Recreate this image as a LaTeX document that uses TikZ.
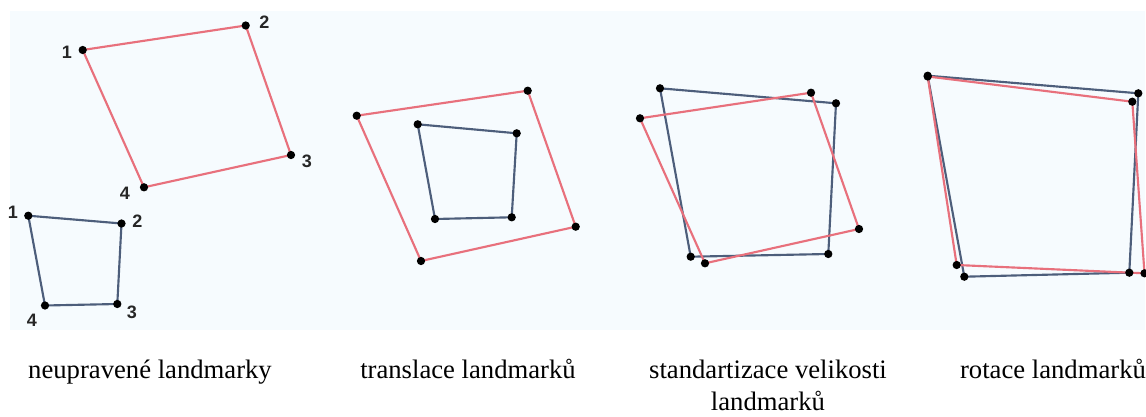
\documentclass[tikz,border=0pt]{standalone}
\usepackage{fontspec}
\setmainfont{Liberation Serif}
\newfontfamily\lblfont{Liberation Sans}
\definecolor{bgc}{HTML}{F6FBFE}
\definecolor{redc}{HTML}{E8707C}
\definecolor{bluec}{HTML}{4D5E7B}
\pgfdeclarelayer{bg}
\pgfdeclarelayer{lines}
\pgfsetlayers{bg,lines,main}
\tikzset{
  dot/.style={circle,fill=black,inner sep=0pt,minimum size=6.2pt},
  redq/.style={draw=redc,line width=1.6pt,line join=round},
  blueq/.style={draw=bluec,line width=1.6pt,line join=round},
  num/.style={font=\lblfont\bfseries\fontsize{13.5}{15}\selectfont,inner sep=0pt,text=black!85},
  captxt/.style={font=\fontsize{20}{24}\selectfont,inner sep=0pt,anchor=base,align=center}
}
\begin{document}
\begin{tikzpicture}[x=0.75pt,y=-0.75pt]
\useasboundingbox (0,0) rectangle (1146,417);
\begin{pgfonlayer}{bg}
\fill[bgc] (10,11) rectangle (1145,330);
\end{pgfonlayer}
% panel 1
\node[dot] (a1) at (82.7,50) {};
\node[dot] (a2) at (245.7,25.5) {};
\node[dot] (a3) at (291,155) {};
\node[dot] (a4) at (144,187.3) {};
\node[dot] (b1) at (28.3,215.7) {};
\node[dot] (b2) at (121.5,223.5) {};
\node[dot] (b3) at (117.3,304) {};
\node[dot] (b4) at (45,305.5) {};
\node[num] (la1) at (67,52) {1};
\node[num] (la2) at (264.5,22) {2};
\node[num] (la3) at (307,161) {3};
\node[num] (la4) at (125,193) {4};
\node[num] (lb1) at (13,212) {1};
\node[num] (lb2) at (137.5,221) {2};
\node[num] (lb3) at (132,312) {3};
\node[num] (lb4) at (32,320) {4};
% panel 2
\node[dot] (c1) at (356.7,115.7) {};
\node[dot] (c2) at (527.7,90.7) {};
\node[dot] (c3) at (575.7,226.7) {};
\node[dot] (c4) at (421,261) {};
\node[dot] (d1) at (417.7,124.3) {};
\node[dot] (d2) at (516.7,133.3) {};
\node[dot] (d3) at (511.7,217.3) {};
\node[dot] (d4) at (435,219) {};
% panel 3
\node[dot] (e1) at (640,118.3) {};
\node[dot] (e2) at (811,92.7) {};
\node[dot] (e3) at (859,229) {};
\node[dot] (e4) at (705,263.3) {};
\node[dot] (f1) at (660,88.3) {};
\node[dot] (f2) at (836,103.3) {};
\node[dot] (f3) at (828.3,254) {};
\node[dot] (f4) at (690.7,256.7) {};
% panel 4
\node[dot] (g1) at (927.7,76.5) {};
\node[dot] (g2) at (1132.3,101.7) {};
\node[dot] (g3) at (1144.5,273.3) {};
\node[dot] (g4) at (956.7,265) {};
\node[dot] (h1) at (927.7,75.7) {};
\node[dot] (h2) at (1138.3,93.3) {};
\node[dot] (h3) at (1129.3,272.7) {};
\node[dot] (h4) at (964.3,276.7) {};
\begin{pgfonlayer}{lines}
\draw[redq] (a1.center) -- (a2.center) -- (a3.center) -- (a4.center) -- cycle;
\draw[blueq] (b1.center) -- (b2.center) -- (b3.center) -- (b4.center) -- cycle;
\draw[redq] (c1.center) -- (c2.center) -- (c3.center) -- (c4.center) -- cycle;
\draw[blueq] (d1.center) -- (d2.center) -- (d3.center) -- (d4.center) -- cycle;
\draw[blueq] (f1.center) -- (f2.center) -- (f3.center) -- (f4.center) -- cycle;
\draw[redq] (e1.center) -- (e2.center) -- (e3.center) -- (e4.center) -- cycle;
\draw[blueq] (h1.center) -- (h2.center) -- (h3.center) -- (h4.center) -- cycle;
\draw[redq] (g1.center) -- (g2.center) -- (g3.center) -- (g4.center) -- cycle;
\end{pgfonlayer}
% captions
\node[captxt] (t1) at (150,378) {neupravené landmarky};
\node[captxt] (t2) at (468,378) {translace landmarků};
\node[captxt] (t3) at (768,410) {standartizace velikosti\\landmarků};
\node[captxt] (t4) at (1053,378) {rotace landmarků};
\end{tikzpicture}
\end{document}
